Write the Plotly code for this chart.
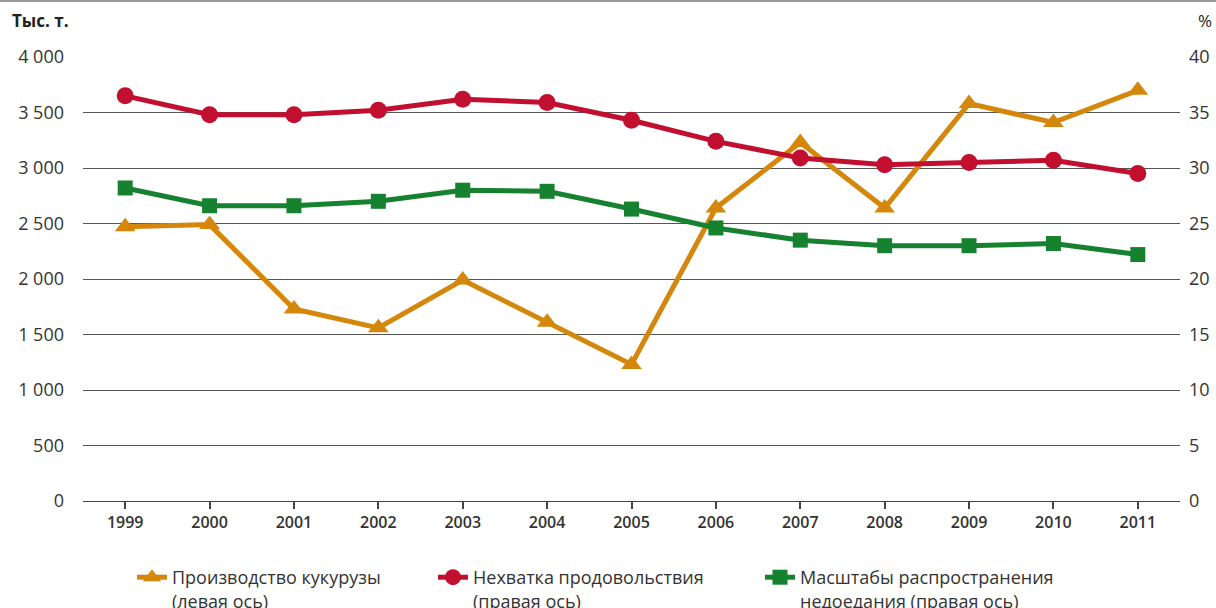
import plotly.graph_objects as go

years = ["1999", "2000", "2001", "2002", "2003", "2004", "2005",
         "2006", "2007", "2008", "2009", "2010", "2011"]

# thousand tonnes, left axis
maize = [2470, 2490, 1730, 1560, 1990, 1610, 1230, 2640, 3230, 2640, 3580, 3410, 3700]
# percent, right axis
food_gap = [36.5, 34.8, 34.8, 35.2, 36.2, 35.9, 34.3, 32.4, 30.9, 30.3, 30.5, 30.7, 29.5]
undernourish = [28.2, 26.6, 26.6, 27.0, 28.0, 27.9, 26.3, 24.6, 23.5, 23.0, 23.0, 23.2, 22.2]

names = [
    "Производство кукурузы<br>(левая ось)",
    "Нехватка продовольствия<br>(правая ось)",
    "Масштабы распространения<br>недоедания (правая ось)",
]

ORANGE = "#D4870B"
RED = "#C20E2F"
GREEN = "#16812F"
FONT = "Open Sans"

fig = go.Figure()
fig.add_trace(go.Scatter(
    x=years, y=maize, name=names[0], mode="lines+markers", legend="legend", showlegend=True,
    line=dict(color=ORANGE, width=5),
    marker=dict(symbol="triangle-up", size=18, color=ORANGE),
))
fig.add_trace(go.Scatter(
    x=years, y=food_gap, name=names[1], mode="lines+markers", yaxis="y2", legend="legend2",
    showlegend=True,
    line=dict(color=RED, width=5),
    marker=dict(symbol="circle", size=17, color=RED),
))
fig.add_trace(go.Scatter(
    x=years, y=undernourish, name=names[2], mode="lines+markers", yaxis="y2", legend="legend3",
    showlegend=True,
    line=dict(color=GREEN, width=5),
    marker=dict(symbol="square", size=15, color=GREEN),
))

W, H = 1216, 608
ml, mr, mt, mb = 83, 36, 57, 107
pw, ph = W - ml - mr, H - mt - mb


def px_x(x):
    return (x - ml) / pw


def px_y(y):
    return (H - mb - y) / ph


legend_common = dict(
    orientation="v", yanchor="top", xanchor="left", valign="top",
    font=dict(family=FONT, size=18, color="#333"), bgcolor="rgba(0,0,0,0)",
    itemwidth=30,
)

fig.update_layout(
    width=W, height=H,
    margin=dict(l=ml, r=mr, t=mt, b=mb, autoexpand=False),
    showlegend=True,
    plot_bgcolor="white", paper_bgcolor="white",
    separators=", ",
    font=dict(family=FONT, color="#333"),
    xaxis=dict(
        type="category", range=[-0.5, 12.5], showgrid=False,
        showline=True, linecolor="#444", linewidth=1,
        ticks="outside", ticklen=7, tickcolor="#444", tickwidth=2,
        tickfont=dict(family=FONT, size=16, color="#333", weight=600),
    ),
    yaxis=dict(
        range=[0, 4000], dtick=500, tickformat=",d",
        showgrid=True, gridcolor="#555", gridwidth=1,
        zeroline=False, showline=False, ticks="", ticklabelstandoff=18,
        tickfont=dict(family=FONT, size=18, color="#333"),
    ),
    yaxis2=dict(
        range=[0, 40], dtick=5, overlaying="y", side="right",
        showgrid=False, zeroline=False, showline=False, ticks="", ticklabelstandoff=8,
        tickfont=dict(family=FONT, size=18, color="#333"),
    ),
    legend=dict(x=px_x(132), y=px_y(559), **legend_common),
    legend2=dict(x=px_x(433), y=px_y(559), **legend_common),
    legend3=dict(x=px_x(760), y=px_y(559), **legend_common),
    annotations=[
        dict(text="<b>Тыс. т.</b>", xref="paper", yref="paper", x=px_x(10), y=px_y(21),
             xanchor="left", yanchor="middle", showarrow=False,
             font=dict(family=FONT, size=17, color="#222")),
        dict(text="%", xref="paper", yref="paper", x=px_x(1214), y=px_y(21),
             xanchor="right", yanchor="middle", showarrow=False,
             font=dict(family=FONT, size=17, color="#222")),
    ],
    shapes=[
        dict(type="line", xref="paper", yref="paper", x0=px_x(0), x1=px_x(W),
             y0=px_y(1), y1=px_y(1), line=dict(color="#999", width=2)),
    ],
)

fig.write_html("out.html", config={"displayModeBar": False},
               post_script="document.body.style.margin='0';")
